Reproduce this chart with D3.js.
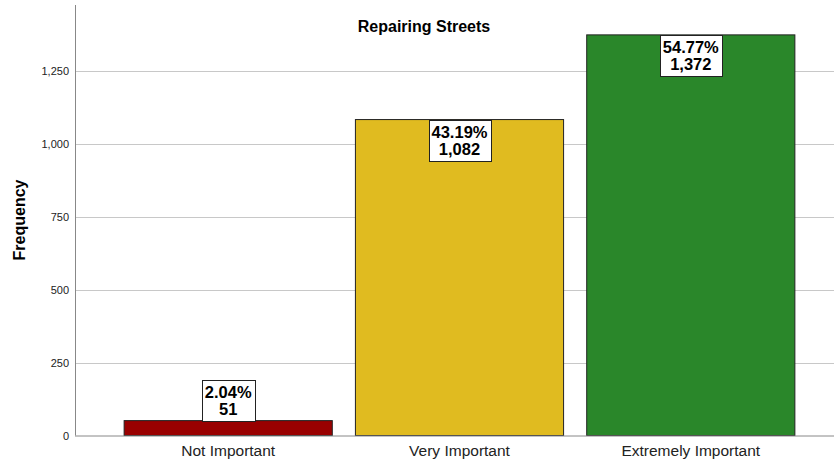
<!DOCTYPE html>
<html><head><meta charset="utf-8">
<script src="https://cdn.jsdelivr.net/npm/d3@7"></script>
<style>body{margin:0;background:#fff;font-family:Arial,"Liberation Sans",sans-serif}</style>
</head><body>
<svg id="c" width="834" height="463"></svg>
<script>
const categories = ["Not Important", "Very Important", "Extremely Important"];
const frequencies = [51, 1082, 1372];
const percents = ["2.04%", "43.19%", "54.77%"];
const countLabels = ["51", "1,082", "1,372"];
const colors = ["#990000", "#e0bb20", "#2a872a"];
const yTicks = [0, 250, 500, 750, 1000, 1250];

(function () {
const svg = d3.select("#c");
const pLeft = 75, pRight = 834, pTop = 5, pBottom = 435.5;
const x = d3.scaleBand().domain(categories).range([101, 818]).padding(0.1);
const y = d3.scaleLinear().domain([0, 1250]).range([pBottom, 70.5]);

// gridlines
svg.append("g").selectAll("line").data(yTicks.filter(d => d > 0)).join("line")
  .attr("x1", pLeft).attr("x2", pRight)
  .attr("y1", d => Math.round(y(d)) + 0.5).attr("y2", d => Math.round(y(d)) + 0.5)
  .attr("stroke", "#c8c8c8").attr("stroke-width", 1);

// y axis
const yAxis = d3.axisLeft(y).tickValues(yTicks).tickSize(0).tickPadding(6)
  .tickFormat(d3.format(","));
const gy = svg.append("g").attr("transform", `translate(${pLeft},0)`).call(yAxis);
gy.select(".domain").remove();
gy.selectAll("text").attr("font-size", 11).attr("fill", "#222").attr("font-family", "Arial, 'Liberation Sans', sans-serif");
svg.append("line").attr("x1", pLeft + 0.5).attr("x2", pLeft + 0.5).attr("y1", pTop).attr("y2", pBottom)
  .attr("stroke", "#888");

// bars
svg.append("g").selectAll("rect").data(categories).join("rect")
  .attr("x", d => x(d)).attr("width", x.bandwidth())
  .attr("y", (d, i) => y(frequencies[i])).attr("height", (d, i) => pBottom - y(frequencies[i]))
  .attr("fill", (d, i) => colors[i]).attr("stroke", "#222").attr("stroke-width", 1);

// x axis
const xAxis = d3.axisBottom(x).tickSize(0).tickPadding(9);
const gx = svg.append("g").attr("transform", `translate(0,${pBottom})`).call(xAxis);
gx.select(".domain").remove();
gx.selectAll("text").attr("font-size", 15.5).attr("fill", "#222").attr("font-family", "Arial, 'Liberation Sans', sans-serif");
svg.append("line").attr("x1", pLeft).attr("x2", pRight).attr("y1", pBottom + 0.5).attr("y2", pBottom + 0.5)
  .attr("stroke", "#888");

// value labels
categories.forEach((c, i) => {
  const cx = x(c) + x.bandwidth() / 2;
  const barTop = y(frequencies[i]);
  const h = 41;
  const inside = pBottom - barTop > h + 4;
  const by = inside ? barTop : barTop - h;
  const g = svg.append("g");
  const t1 = g.append("text").attr("x", cx).attr("y", by + 18).attr("text-anchor", "middle")
    .attr("font-size", 16.5).attr("font-weight", "bold").attr("fill", "#000").text(percents[i]);
  const t2 = g.append("text").attr("x", cx).attr("y", by + 35).attr("text-anchor", "middle")
    .attr("font-size", 16.5).attr("font-weight", "bold").attr("fill", "#000").text(countLabels[i]);
  const w = Math.max(t1.node().getComputedTextLength(), t2.node().getComputedTextLength()) + 6;
  g.insert("rect", "text").attr("x", Math.round(cx - w / 2) + 0.5).attr("y", Math.round(by) + 0.5)
    .attr("width", Math.round(w)).attr("height", h).attr("fill", "#fff").attr("stroke", "#222");
});

// title
svg.append("text").attr("x", 424).attr("y", 31.5).attr("text-anchor", "middle")
  .attr("font-size", 16).attr("font-weight", "bold").attr("fill", "#000").text("Repairing Streets");

// y label
svg.append("text").attr("transform", "translate(25,220) rotate(-90)").attr("text-anchor", "middle")
  .attr("font-size", 16).attr("font-weight", "bold").attr("fill", "#000").text("Frequency");
})();
</script>
</body></html>
